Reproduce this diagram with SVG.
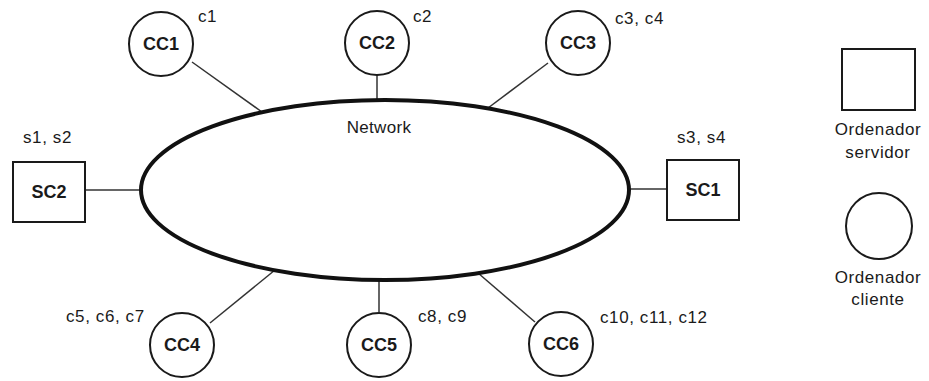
<svg xmlns="http://www.w3.org/2000/svg" width="929" height="381" viewBox="0 0 929 381">
<style>
text{font-family:"Liberation Sans",Arial,sans-serif;fill:#1a1a1a}
.lbl{font-size:17px;letter-spacing:0.6px}
.node{font-size:18px;font-weight:bold;text-anchor:middle}
.leg{font-size:17px;letter-spacing:0.6px;text-anchor:middle}
.shape{fill:#fff;stroke:#1a1a1a;stroke-width:2}
.conn{stroke:#333;stroke-width:1.5;fill:none}
</style>
<g id="connectors">
<line class="conn" x1="192" y1="62" x2="262" y2="112"/>
<line class="conn" x1="377" y1="75" x2="377" y2="101"/>
<line class="conn" x1="548" y1="63" x2="488" y2="108"/>
<line class="conn" x1="85" y1="190" x2="142" y2="190"/>
<line class="conn" x1="628" y1="189" x2="667" y2="189"/>
<line class="conn" x1="210" y1="323" x2="275" y2="270"/>
<line class="conn" x1="379" y1="312" x2="379" y2="279"/>
<line class="conn" x1="535" y1="322" x2="478" y2="273"/>
</g>
<g id="network">
<ellipse cx="385" cy="190" rx="244" ry="90" fill="#fff" stroke="#111" stroke-width="4"/>
<text class="lbl" x="379" y="133" text-anchor="middle" style="letter-spacing:0.3px">Network</text>
</g>
<g id="CC1"><circle class="shape" cx="161" cy="44" r="32"/><text class="node" x="161" y="50">CC1</text><text class="lbl" x="198" y="22">c1</text></g>
<g id="CC2"><circle class="shape" cx="377" cy="43" r="32"/><text class="node" x="377" y="49">CC2</text><text class="lbl" x="413" y="22">c2</text></g>
<g id="CC3"><circle class="shape" cx="578" cy="43" r="32"/><text class="node" x="578" y="49">CC3</text><text class="lbl" x="615" y="24">c3, c4</text></g>
<g id="SC2"><rect class="shape" x="13" y="162" width="72" height="60"/><text class="node" x="49" y="198">SC2</text><text class="lbl" x="23" y="143">s1, s2</text></g>
<g id="SC1"><rect class="shape" x="667" y="160" width="72" height="60"/><text class="node" x="703" y="196">SC1</text><text class="lbl" x="677" y="143">s3, s4</text></g>
<g id="CC4"><circle class="shape" cx="182" cy="345" r="32"/><text class="node" x="182" y="351">CC4</text><text class="lbl" x="66" y="322">c5, c6, c7</text></g>
<g id="CC5"><circle class="shape" cx="379" cy="345" r="32"/><text class="node" x="379" y="351">CC5</text><text class="lbl" x="418" y="322">c8, c9</text></g>
<g id="CC6"><circle class="shape" cx="561" cy="344" r="32"/><text class="node" x="561" y="350">CC6</text><text class="lbl" x="600" y="323">c10, c11, c12</text></g>
<g id="legend-server"><rect class="shape" x="842" y="49" width="73" height="61"/><text class="leg" x="878" y="135">Ordenador</text><text class="leg" x="878" y="158">servidor</text></g>
<g id="legend-client"><circle class="shape" cx="879" cy="226" r="33"/><text class="leg" x="878" y="283">Ordenador</text><text class="leg" x="878" y="305">cliente</text></g>
</svg>
